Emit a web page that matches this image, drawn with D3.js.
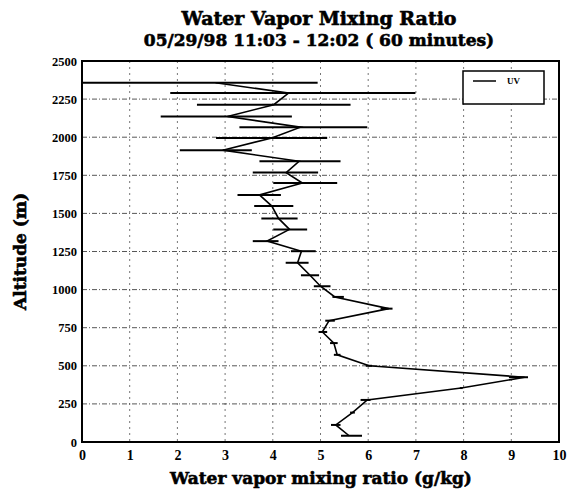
<!DOCTYPE html>
<html><head><meta charset="utf-8">
<script src="https://cdn.jsdelivr.net/npm/d3@7"></script>
<style>body{margin:0;background:#fff}svg{display:block}</style>
</head><body>
<svg id="c" width="587" height="498"></svg>
<script>
const titleText = "Water Vapor Mixing Ratio";
const subtitleText = "05/29/98 11:03 - 12:02 ( 60 minutes)";
const xLabel = "Water vapor mixing ratio (g/kg)";
const yLabel = "Altitude (m)";
const seriesName = "UV";
const xTicks = [0,1,2,3,4,5,6,7,8,9,10];
const yTicks = [0,250,500,750,1000,1250,1500,1750,2000,2250,2500];
const altitude = [2357,2290,2213,2136,2066,1995,1915,1842,1768,1699,1621,1548,1467,1395,1318,1252,1176,1094,1022,952,875,796,722,649,572,500,425,354,276,193,112,41];
const mixing   = [2.8,4.33,4.02,3.05,4.58,3.98,2.95,4.55,4.28,4.62,3.72,3.98,4.12,4.35,3.88,4.6,4.52,4.78,5.0,5.3,6.43,5.18,5.04,5.28,5.35,6.02,9.28,7.95,5.98,5.67,5.32,5.6];
const errLow   = [0,1.85,2.41,1.65,3.30,2.81,2.05,3.72,3.58,4.01,3.26,3.61,3.76,4.01,3.58,4.38,4.27,4.59,4.86,5.25,6.26,5.10,4.96,5.20,5.28,5.95,8.95,7.92,5.84,5.62,5.22,5.43];
const errHigh  = [4.94,6.99,5.63,4.40,5.98,5.14,3.56,5.42,4.95,5.35,4.17,4.43,4.52,4.72,4.12,4.90,4.75,4.97,5.21,5.49,6.51,5.30,5.14,5.36,5.42,6.08,9.35,7.98,6.05,5.72,5.42,5.87];

const svg = d3.select("#c");
const L=82, R=559, T=61, B=442;
const x = d3.scaleLinear().domain([0,10]).range([L,R]);
const y = d3.scaleLinear().domain([0,2500]).range([B,T]);
const serif = "'DejaVu Serif', serif";
const sans = "'Liberation Serif', serif";

// grid
svg.append("g").selectAll("line").data(xTicks.filter(d=>d>0&&d<10)).join("line")
  .attr("x1",d=>x(d)).attr("x2",d=>x(d)).attr("y1",T).attr("y2",B)
  .attr("stroke","#666").attr("stroke-width",0.9).attr("stroke-dasharray","2,4");
svg.append("g").selectAll("line").data(yTicks.filter(d=>d>0&&d<2500)).join("line")
  .attr("x1",L).attr("x2",R).attr("y1",d=>y(d)).attr("y2",d=>y(d))
  .attr("stroke","#444").attr("stroke-width",0.9).attr("stroke-dasharray","5,2,1,2");

// axes
const xAxis = d3.axisBottom(x).tickValues(xTicks).tickSize(0).tickPadding(8).tickFormat(d3.format("d"));
const gx = svg.append("g").attr("transform",`translate(0,${B})`).call(xAxis);
gx.select(".domain").remove();
gx.selectAll("text").attr("font-family",sans).attr("font-size",14).attr("font-weight","bold").attr("fill","#000");
const yAxis = d3.axisLeft(y).tickValues(yTicks).tickSize(0).tickPadding(5).tickFormat(d3.format("d"));
const gy = svg.append("g").attr("transform",`translate(${L},0)`).call(yAxis);
gy.select(".domain").remove();
gy.selectAll("text").attr("font-family",sans).attr("font-size",12.5).attr("font-weight","bold").attr("fill","#000");

// error bars
const idx = d3.range(altitude.length);
svg.append("g").selectAll("line").data(idx).join("line")
  .attr("x1",i=>x(errLow[i])).attr("x2",i=>x(errHigh[i]))
  .attr("y1",i=>y(altitude[i])).attr("y2",i=>y(altitude[i]))
  .attr("stroke","#000").attr("stroke-width",2);

// profile
svg.append("path").datum(idx)
  .attr("d",d3.line().x(i=>x(mixing[i])).y(i=>y(altitude[i])))
  .attr("fill","none").attr("stroke","#000").attr("stroke-width",1.6);

// frame
svg.append("rect").attr("x",L).attr("y",T).attr("width",R-L).attr("height",B-T)
  .attr("fill","none").attr("stroke","#000").attr("stroke-width",2);

// legend
const lg = svg.append("g");
lg.append("rect").attr("x",463).attr("y",71).attr("width",81).attr("height",33)
  .attr("fill","#fff").attr("stroke","#000").attr("stroke-width",1.5);
lg.append("line").attr("x1",473).attr("x2",496).attr("y1",81).attr("y2",81)
  .attr("stroke","#000").attr("stroke-width",1.5);
lg.append("text").attr("x",507).attr("y",84).text(seriesName)
  .attr("font-family",sans).attr("font-size",9).attr("font-weight","bold");

// titles
const heavy = sel => sel.attr("font-family",serif).attr("font-weight","bold")
  .attr("stroke","#000").attr("stroke-width",0.6).attr("text-anchor","middle");
svg.append("text").attr("x",319).attr("y",25).text(titleText).attr("font-size",19).call(heavy);
svg.append("text").attr("x",319).attr("y",46).text(subtitleText).attr("font-size",17).call(heavy);
svg.append("text").attr("x",321).attr("y",484).text(xLabel).attr("font-size",17).call(heavy);
svg.append("text").attr("transform",`translate(26,${(T+B)/2}) rotate(-90)`).text(yLabel).attr("font-size",17).call(heavy);
</script>
</body></html>
